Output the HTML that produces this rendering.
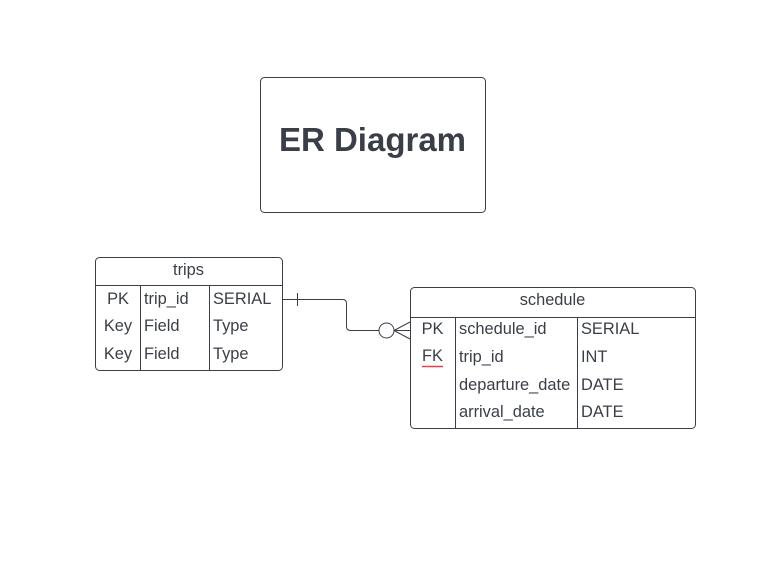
<!DOCTYPE html>
<html><head><style>body{margin:0;background:#fff}svg{display:block}</style></head><body>
<svg width="772" height="563" xmlns="http://www.w3.org/2000/svg" font-family="Liberation Sans, sans-serif" fill="#3a3f47">
<rect x="260.5" y="77.5" width="225" height="135" rx="4" fill="#fff" stroke="#3a3f47"/>
<text x="372.5" y="151" font-size="33" font-weight="bold" text-anchor="middle">ER Diagram</text>
<g stroke="#3a3f47" fill="none" stroke-width="1">
<rect x="95.5" y="257.5" width="187" height="113" rx="4"/>
<line x1="95.5" y1="285.5" x2="282.5" y2="285.5"/>
<line x1="140.5" y1="285.5" x2="140.5" y2="370.5"/>
<line x1="209.5" y1="285.5" x2="209.5" y2="370.5"/>
<rect x="410.5" y="287.5" width="285" height="141" rx="4"/>
<line x1="410.5" y1="317.5" x2="695.5" y2="317.5"/>
<line x1="455.5" y1="317.5" x2="455.5" y2="428.5"/>
<line x1="577.5" y1="317.5" x2="577.5" y2="428.5"/>
<path d="M282.5 299.5 H342.5 Q346.5 299.5 346.5 303.5 V326.5 Q346.5 330.5 350.5 330.5 H379"/>
<line x1="297.5" y1="293" x2="297.5" y2="306"/>
<circle cx="386.5" cy="330.5" r="7.5"/>
<path d="M394 330.5 H410 M394 330.5 L410 322 M394 330.5 L410 339"/>
<line x1="422" y1="366.5" x2="443" y2="366.5" stroke="#e0434b" stroke-width="1.5"/>
</g>
<g font-size="16.4">
<text x="188.5" y="275" text-anchor="middle">trips</text>
<text x="118" y="304" text-anchor="middle">PK</text>
<text x="118" y="331" text-anchor="middle">Key</text>
<text x="118" y="359" text-anchor="middle">Key</text>
<text x="144" y="304">trip_id</text>
<text x="144" y="331">Field</text>
<text x="144" y="359">Field</text>
<text x="213" y="304">SERIAL</text>
<text x="213" y="331">Type</text>
<text x="213" y="359">Type</text>
<text x="552.5" y="305" text-anchor="middle">schedule</text>
<text x="432.5" y="334" text-anchor="middle">PK</text>
<text x="432.5" y="361" text-anchor="middle">FK</text>
<text x="459" y="334">schedule_id</text>
<text x="459" y="362">trip_id</text>
<text x="459" y="390">departure_date</text>
<text x="459" y="417">arrival_date</text>
<text x="581" y="334">SERIAL</text>
<text x="581" y="362">INT</text>
<text x="581" y="390">DATE</text>
<text x="581" y="417">DATE</text>
</g>
</svg>
</body></html>
